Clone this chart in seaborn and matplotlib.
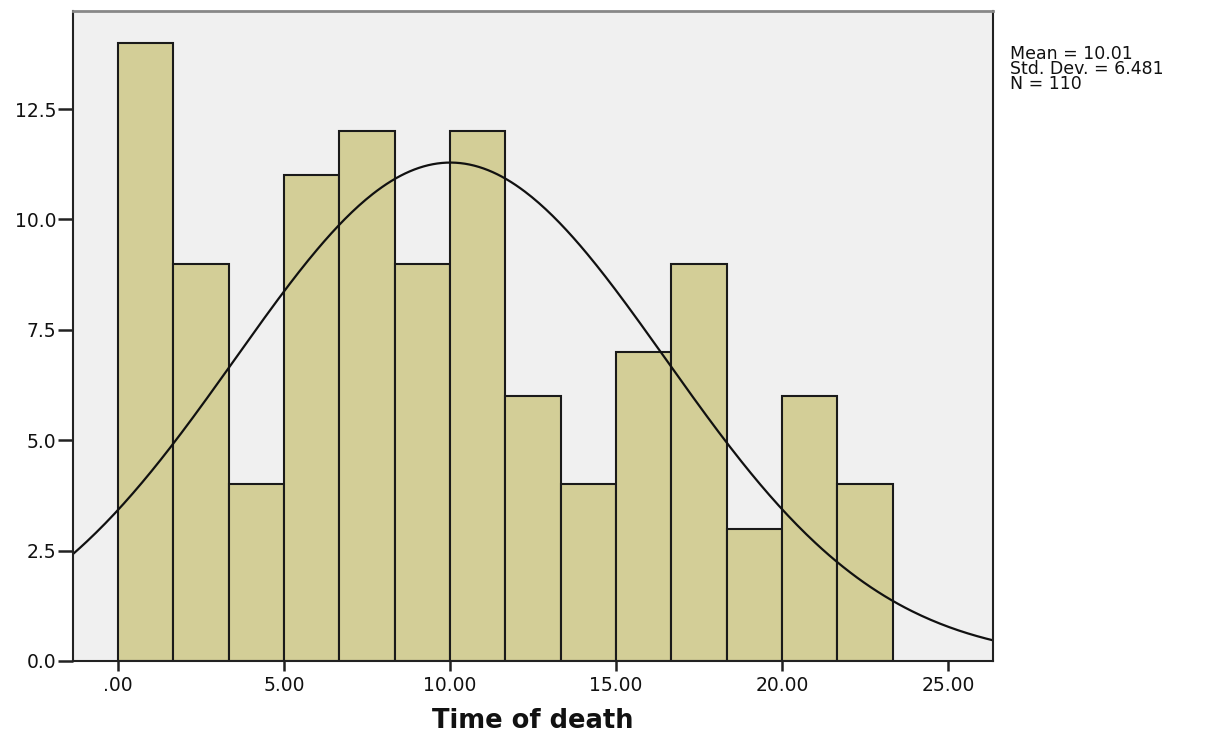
import numpy as np
import matplotlib
matplotlib.use("Agg")
import matplotlib.pyplot as plt
import seaborn as sns

# Data
bin_edges = [0.0, 1.667, 3.333, 5.0, 6.667, 8.333, 10.0, 11.667, 13.333, 15.0,
             16.667, 18.333, 20.0, 21.667, 23.333]
counts = [14, 9, 4, 11, 12, 9, 12, 6, 4, 7, 9, 3, 6, 4]
mean_val = 10.01
std_val = 6.481
n_val = 110
x_ticks = [0, 5, 10, 15, 20, 25]
x_tick_labels = [".00", "5.00", "10.00", "15.00", "20.00", "25.00"]
y_ticks = [0.0, 2.5, 5.0, 7.5, 10.0, 12.5]
y_tick_labels = ["0.0", "2.5", "5.0", "7.5", "10.0", "12.5"]

sns.set_style("white")
plt.rcParams['font.family'] = ['DejaVu Sans']

fig = plt.figure(figsize=(12.07, 7.33), dpi=100)
ax = fig.add_axes([73/1207, 1 - 661/733, (993-73)/1207, (661-11)/733])
ax.set_facecolor("#f0f0f0")

centers = [(bin_edges[i] + bin_edges[i+1]) / 2 for i in range(len(counts))]
sns.histplot(x=centers, weights=counts, bins=bin_edges, ax=ax,
             color="#d3ce97", edgecolor="#1a1a1a", linewidth=1.5, alpha=1.0)

xmin, xmax = -1.36, 26.36
bw = bin_edges[1] - bin_edges[0]
xs = np.linspace(xmin, xmax, 400)
ys = n_val * bw / (std_val * np.sqrt(2 * np.pi)) * np.exp(-0.5 * ((xs - mean_val) / std_val) ** 2)
sns.lineplot(x=xs, y=ys, ax=ax, color="#111111", linewidth=1.6)

ax.set_xlim(xmin, xmax)
ax.set_ylim(0, 14.72)
ax.set_xticks(x_ticks)
ax.set_xticklabels(x_tick_labels, fontsize=13.5)
ax.set_yticks(y_ticks)
ax.set_yticklabels(y_tick_labels, fontsize=13.5)
ax.tick_params(axis='x', direction='out', length=7.5, width=1.8, color="#222222",
               labelcolor="#111111", pad=3, bottom=True)
ax.tick_params(axis='y', direction='out', length=11, width=1.8, color="#222222",
               labelcolor="#111111", pad=1, left=True)
ax.set_ylabel("")
ax.set_xlabel("Time of death", fontsize=18.5, fontweight='bold', labelpad=10, color="#111111")

for side in ['left', 'bottom', 'right']:
    ax.spines[side].set_color("#222222")
    ax.spines[side].set_linewidth(1.5)
ax.spines['top'].set_color("#888888")
ax.spines['top'].set_linewidth(2)

fig.text(1010/1207, 1 - 45/733, f"Mean = {mean_val:.2f}\nStd. Dev. = {std_val:.3f}\nN = {n_val}",
         fontsize=12.5, va='top', ha='left', linespacing=0.8, color="#111111")

fig.savefig("out.png", dpi=100)
